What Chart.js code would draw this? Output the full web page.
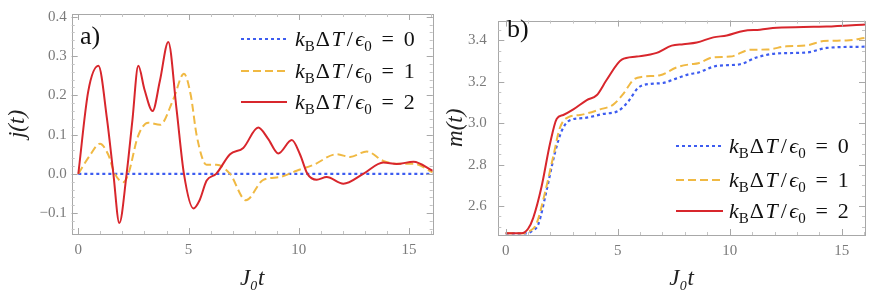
<!DOCTYPE html>
<html>
<head>
<meta charset="utf-8">
<script src="https://cdn.jsdelivr.net/npm/chart.js@4"></script>
<style>
  html, body { margin: 0; padding: 0; background: #fff; }
  #wrap { position: relative; width: 872px; height: 295px; }
  #panelA { position: absolute; left: 0; top: 0; }
  #panelB { position: absolute; left: 440px; top: 0; }
</style>
</head>
<body>
<div id="wrap">
  <canvas id="panelA" width="436" height="295"></canvas>
  <canvas id="panelB" width="432" height="295"></canvas>
</div>
<script>
// legend values k_B ΔT / ϵ0
const legendValues = [0, 1, 2];

// panel a) current j(t)
const tA0 = [0, 16.07];
const jA0 = [0, 0];
const tA1 = [0, 0.5, 0.98, 1.35, 1.66, 2.04, 2.27, 2.7, 3.17, 3.71, 4.31, 4.79, 5.1, 5.37, 5.82, 6.27, 6.88, 7.6, 8.39, 9.15, 9.9, 10.66, 11.72, 12.32, 13.08, 13.83, 14.44, 15.2, 16.07];
const jA1 = [0, 0.045, 0.077, 0.05, 0, -0.021, 0, 0.095, 0.13, 0.125, 0.19, 0.255, 0.2, 0.097, 0.023, 0.023, 0, -0.067, -0.015, -0.008, 0.008, 0.023, 0.05, 0.043, 0.057, 0.033, 0.026, 0.026, 0.004];
const tA2 = [0, 0.45, 0.91, 1.3, 1.59, 1.86, 2.19, 2.45, 2.72, 3.0, 3.37, 3.7, 4.08, 4.45, 4.79, 5.22, 5.5, 5.82, 6.25, 6.88, 7.48, 8.16, 8.6, 9.07, 9.68, 10.05, 10.39, 10.81, 11.26, 12.02, 12.92, 13.83, 14.44, 15.2, 16.07];
const jA2 = [0, 0.21, 0.275, 0.14, 0, -0.125, 0, 0.135, 0.275, 0.215, 0.16, 0.237, 0.336, 0.167, 0, -0.088, -0.067, -0.017, 0, 0.05, 0.066, 0.118, 0.09, 0.052, 0.086, 0.05, 0, -0.015, -0.008, -0.025, 0, 0.029, 0.025, 0.031, 0.008];

// panel b) m(t)
const tB0 = [0, 0.94, 1.15, 1.46, 1.83, 2.2, 2.5, 2.87, 3.46, 4.36, 5.03, 5.47, 5.92, 6.44, 7.04, 7.63, 8.23, 8.53, 9.42, 10.46, 11.2, 12.1, 13.44, 14.33, 16.04];
const mB0 = [2.468, 2.468, 2.478, 2.513, 2.678, 2.858, 2.963, 3.015, 3.025, 3.045, 3.06, 3.105, 3.172, 3.19, 3.195, 3.217, 3.238, 3.243, 3.277, 3.285, 3.318, 3.337, 3.342, 3.364, 3.37];
const tB1 = [0, 0.79, 1.05, 1.37, 1.75, 2.13, 2.42, 2.8, 3.32, 4.21, 4.8, 5.25, 5.7, 6.14, 6.89, 7.63, 8.23, 8.6, 9.27, 10.02, 10.91, 11.65, 12.54, 13.44, 14.18, 15.22, 16.04];
const mB1 = [2.468, 2.468, 2.478, 2.513, 2.663, 2.843, 2.978, 3.03, 3.04, 3.067, 3.09, 3.142, 3.21, 3.225, 3.232, 3.27, 3.285, 3.29, 3.319, 3.322, 3.355, 3.356, 3.372, 3.376, 3.397, 3.4, 3.412];
const tB2 = [0, 0.71, 1.0, 1.23, 1.6, 1.98, 2.28, 2.57, 3.02, 3.62, 4.06, 4.51, 5.18, 5.85, 6.74, 7.41, 7.93, 8.53, 9.27, 9.87, 10.61, 11.35, 12.1, 13.74, 14.33, 16.04];
const mB2 = [2.468, 2.468, 2.49, 2.543, 2.693, 2.902, 3.022, 3.04, 3.067, 3.112, 3.135, 3.21, 3.307, 3.322, 3.34, 3.375, 3.382, 3.39, 3.415, 3.424, 3.446, 3.452, 3.461, 3.466, 3.467, 3.477];

// tick labels
const xTicks = [0, 5, 10, 15];
const jTicks = [-0.1, 0, 0.1, 0.2, 0.3, 0.4];
const mTicks = [2.6, 2.8, 3.0, 3.2, 3.4];

const SERIF = "'Liberation Serif', serif";
const TICK_COLOR = "#7a7a7a";
const FRAME_COLOR = "#a8a8a8";

const lineStyles = [
  { color: "#3d5cf0", dash: [3, 3], width: 2.2 },
  { color: "#f0b943", dash: [8, 4], width: 2 },
  { color: "#d8262c", dash: [], width: 2 },
];

function toPoints(t, v) {
  return t.map((x, i) => ({ x: x, y: v[i] }));
}

function makeDatasets(series) {
  return series.map((s, i) => ({
    label: `kBΔT/ϵ0 = ${legendValues[i]}`,
    data: toPoints(s[0], s[1]),
    borderColor: lineStyles[i].color,
    borderDash: lineStyles[i].dash,
    borderWidth: lineStyles[i].width,
    pointRadius: 0,
    cubicInterpolationMode: "monotone",
    fill: false,
    order: 2 - i,
  }));
}

// k_B ΔT / ϵ_0 = n, drawn piece by piece (pad = extra px each side)
function drawMath(ctx, x, baseline, value, size) {
  const segs = [
    { t: "k", style: "italic" },
    { t: "B", style: "normal", sub: true },
    { t: "Δ", style: "normal", pad: 1 },
    { t: "T", style: "italic", pad: 0.5 },
    { t: "/", style: "normal", pad: 2.5 },
    { t: "ϵ", style: "italic" },
    { t: "0", style: "normal", sub: true },
    { t: "=", style: "normal", pad: size * 0.45 },
    { t: String(value), style: "normal" },
  ];
  ctx.textBaseline = "alphabetic";
  ctx.textAlign = "left";
  ctx.fillStyle = "#111";
  let cx = x;
  segs.forEach((s) => {
    const fs = Math.round(s.sub ? size * 0.7 : size);
    const pad = s.pad || 0;
    ctx.font = `${s.style} ${fs}px ${SERIF}`;
    cx += pad;
    ctx.fillText(s.t, cx, baseline + (s.sub ? size * 0.22 : 0));
    cx += ctx.measureText(s.t).width + pad;
  });
}

const mathLegend = {
  id: "mathLegend",
  afterDraw(chart, args, o) {
    const ctx = chart.ctx;
    ctx.save();
    chart.data.datasets.forEach((ds, i) => {
      const y = o.rows[i];
      ctx.beginPath();
      ctx.strokeStyle = ds.borderColor;
      ctx.lineWidth = ds.borderWidth;
      ctx.setLineDash(ds.borderDash);
      ctx.moveTo(o.x0, y);
      ctx.lineTo(o.x1, y);
      ctx.stroke();
      ctx.setLineDash([]);
      drawMath(ctx, o.textX, y + 7, legendValues[i], o.size);
    });
    ctx.restore();
  },
};

const frame = {
  id: "frame",
  afterDatasetsDraw(chart, args, o) {
    const { ctx, chartArea: a, scales } = chart;
    ctx.save();
    ctx.strokeStyle = FRAME_COLOR;
    ctx.lineWidth = 1;
    ctx.strokeRect(Math.round(a.left) + 0.5, Math.round(a.top) + 0.5,
      Math.round(a.right - a.left), Math.round(a.bottom - a.top));
    const marks = (axis, step, len) => {
      const sc = scales[axis];
      const start = Math.ceil(sc.min / step - 1e-6) * step;
      for (let v = start; v <= sc.max + 1e-9; v += step) {
        const p = Math.round(sc.getPixelForValue(v)) + 0.5;
        ctx.beginPath();
        if (axis === "x") {
          ctx.moveTo(p, a.bottom); ctx.lineTo(p, a.bottom - len);
          ctx.moveTo(p, a.top); ctx.lineTo(p, a.top + len);
        } else {
          ctx.moveTo(a.left, p); ctx.lineTo(a.left + len, p);
          ctx.moveTo(a.right, p); ctx.lineTo(a.right - len, p);
        }
        ctx.stroke();
      }
    };
    ctx.strokeStyle = "#c4c4c4";
    marks("x", o.minorX, 3);
    marks("y", o.minorY, 3);
    ctx.strokeStyle = FRAME_COLOR;
    marks("x", o.majorX, 6);
    marks("y", o.majorY, 6);
    ctx.restore();
    // panel tag
    ctx.save();
    ctx.fillStyle = "#111";
    ctx.font = `26px ${SERIF}`;
    ctx.textBaseline = "alphabetic";
    ctx.fillText(o.tag, o.tagX, o.tagY);
    ctx.restore();
  },
};

function fixedTicks(values) {
  return (scale) => {
    scale.ticks = values.map((v) => ({ value: v }));
  };
}

Chart.defaults.font.family = SERIF;

function makeChart(id, cfg) {
  return new Chart(document.getElementById(id), {
    type: "line",
    data: { datasets: makeDatasets(cfg.series) },
    plugins: [frame, mathLegend],
    options: {
      responsive: false,
      animation: false,
      devicePixelRatio: 1,
      layout: { padding: { top: cfg.padTop, right: cfg.padRight, left: 0, bottom: 0 } },
      plugins: {
        legend: { display: false },
        tooltip: { enabled: false },
        frame: cfg.frame,
        mathLegend: cfg.legend,
      },
      scales: {
        x: {
          type: "linear",
          min: cfg.xMin,
          max: cfg.xMax,
          afterBuildTicks: fixedTicks(xTicks),
          afterFit: (s) => { s.height = cfg.xHeight; },
          grid: { display: false, drawTicks: false },
          border: { display: false },
          ticks: {
            padding: 7,
            color: TICK_COLOR,
            font: { family: SERIF, size: 15 },
            callback: (v) => String(v),
          },
          title: {
            display: true,
            text: "J₀t",
            color: "#222",
            font: { family: SERIF, size: 23, style: "italic" },
            padding: { top: 0, bottom: 2 },
          },
        },
        y: {
          type: "linear",
          min: cfg.yMin,
          max: cfg.yMax,
          afterBuildTicks: fixedTicks(cfg.yTicks),
          afterFit: (s) => { s.width = cfg.yWidth; },
          grid: { display: false, drawTicks: false },
          border: { display: false },
          ticks: {
            padding: cfg.yPad,
            color: TICK_COLOR,
            font: { family: SERIF, size: 15 },
            callback: (v) => (v < 0 ? "−" : "") + Math.abs(v).toFixed(1),
          },
          title: {
            display: true,
            text: cfg.yTitle,
            color: "#222",
            font: { family: SERIF, size: 23, style: "italic" },
            padding: { top: cfg.yTitlePad, bottom: 0 },
          },
        },
      },
    },
  });
}

makeChart("panelA", {
  series: [[tA0, jA0], [tA1, jA1], [tA2, jA2]],
  xMin: -0.3, xMax: 16.07, yMin: -0.153, yMax: 0.407,
  yTicks: jTicks, yTitle: "j(t)",
  padTop: 10.5, padRight: 3.3, xHeight: 61, yWidth: 71.7, yPad: 5, yTitlePad: 4,
  frame: { minorX: 1, majorX: 5, minorY: 0.02, majorY: 0.1, tag: "a)", tagX: 80, tagY: 44 },
  legend: { x0: 241, x1: 287, rows: [39, 71, 102], textX: 295, size: 22 },
});

makeChart("panelB", {
  series: [[tB0, mB0], [tB1, mB1], [tB2, mB2]],
  xMin: -0.33, xMax: 16.04, yMin: 2.46, yMax: 3.496,
  yTicks: mTicks, yTitle: "m(t)",
  padTop: 4.7, padRight: 7, xHeight: 60, yWidth: 58.3, yPad: 11.6, yTitlePad: 2,
  frame: { minorX: 1, majorX: 5, minorY: 0.05, majorY: 0.2, tag: "b)", tagX: 67, tagY: 37 },
  legend: { x0: 236, x1: 283, rows: [146, 180, 211], textX: 289, size: 22 },
});
</script>
</body>
</html>
